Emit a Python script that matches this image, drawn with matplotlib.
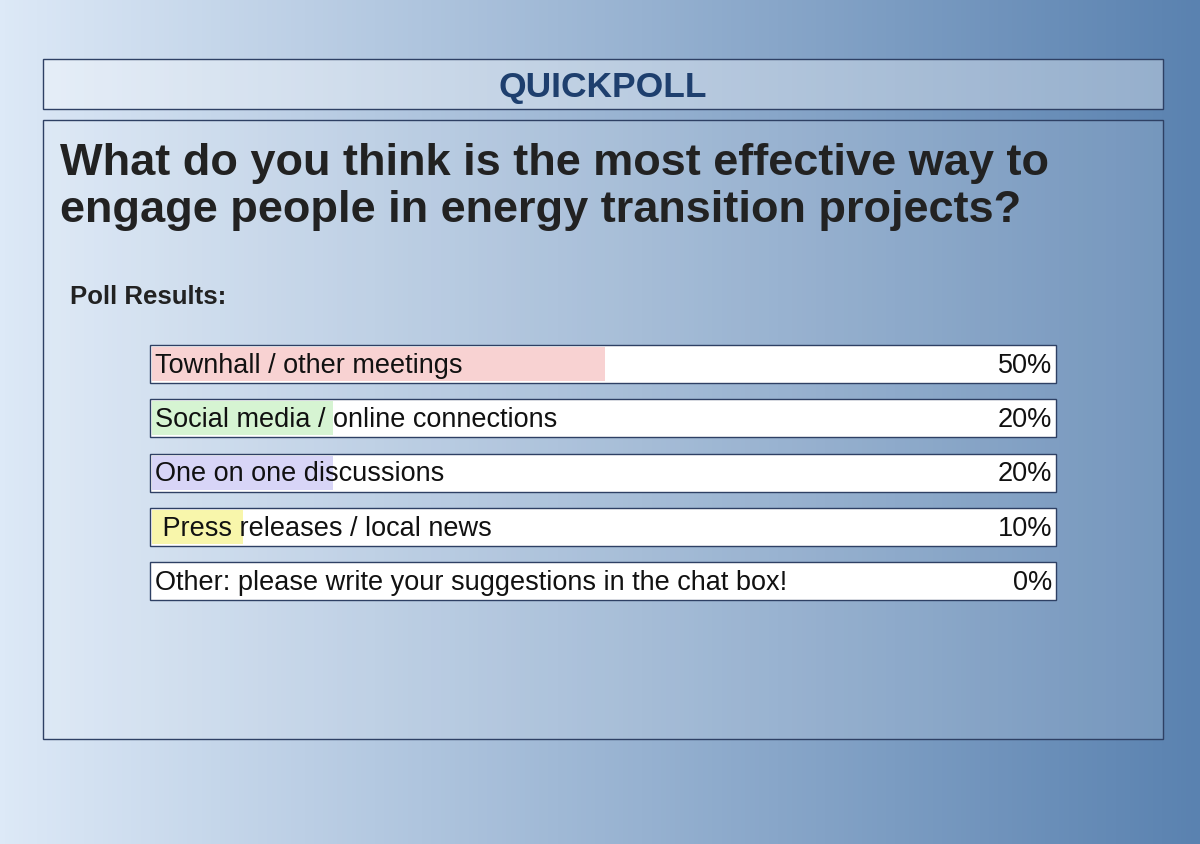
import matplotlib
matplotlib.use("Agg")
import matplotlib.pyplot as plt
import numpy as np
from matplotlib.patches import Rectangle

header = "QUICKPOLL"
question = "What do you think is the most effective way to\nengage people in energy transition projects?"
subtitle = "Poll Results:"
options = ["Townhall / other meetings", "Social media / online connections",
           "One on one discussions", " Press releases / local news",
           "Other: please write your suggestions in the chat box!"]
percents = [50, 20, 20, 10, 0]
colors = ["#f8d2d2", "#d6f4d2", "#d8d5f7", "#f8f6ab", "#f0f0f0"]

W, H = 1200, 845
fig = plt.figure(figsize=(12, 8.45), dpi=100)
ax = fig.add_axes([0, 0, 1, 1])
ax.set_xlim(0, W); ax.set_ylim(H, 0); ax.axis("off")

c0 = np.array([0xdd, 0xe9, 0xf7]) / 255
c1 = np.array([0x5a, 0x82, 0xb0]) / 255
t = np.linspace(0, 1, 256)[None, :, None]
grad = c0 + (c1 - c0) * t
ax.imshow(grad, extent=[0, W, H, 0], aspect="auto", zorder=0)

edge = "#2e4064"
ax.add_patch(Rectangle((43, 60), 1120, 50, facecolor="white", alpha=0.35, zorder=1))
ax.add_patch(Rectangle((43, 60), 1120, 50, fill=False, edgecolor=edge, lw=1, zorder=2))
ax.add_patch(Rectangle((43, 121), 1120, 619, facecolor="white", alpha=0.15, zorder=1))
ax.add_patch(Rectangle((43, 121), 1120, 619, fill=False, edgecolor=edge, lw=1, zorder=2))

ax.text(603, 87, header, ha="center", va="center", fontsize=25.5, fontweight="bold",
        color="#1e3f6e", family="Liberation Sans", zorder=3)
ax.text(60, 187, question, ha="left", va="center", fontsize=32.5, fontweight="bold",
        color="#222222", family="Liberation Sans", linespacing=1.2, zorder=3)
ax.text(70, 297, subtitle, ha="left", va="center", fontsize=18.5, fontweight="bold",
        color="#222222", family="Liberation Sans", zorder=3)

x0, bw = 150, 906
ys = [365, 419, 473.5, 528, 582]
h = 38
ax.barh(ys, [bw] * 5, height=h, left=x0, color="white", edgecolor=edge, lw=1, zorder=3)
ax.barh(ys, [bw * p / 100 for p in percents], height=h - 4, left=x0 + 2,
        color=colors, zorder=4)
for y, o, p in zip(ys, options, percents):
    ax.text(x0 + 5, y + 1, o, ha="left", va="center", fontsize=19.5, color="#111111",
            family="Liberation Sans", zorder=5)
    ax.text(x0 + bw - 4, y + 1, f"{p}%", ha="right", va="center", fontsize=19.5,
            color="#111111", family="Liberation Sans", zorder=5)

fig.savefig("out.png", dpi=100)
